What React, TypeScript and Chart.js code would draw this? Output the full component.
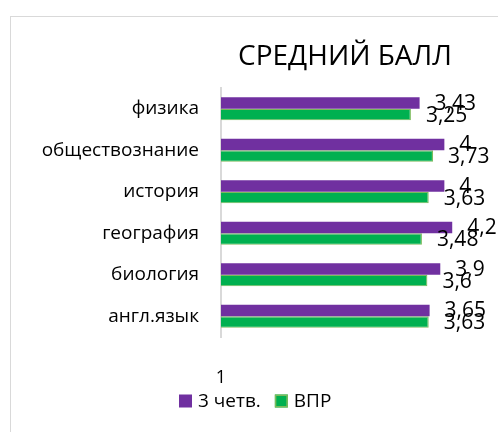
import React, { useEffect, useRef } from 'react';
import { Chart, registerables } from 'chart.js';

Chart.register(...registerables);

const categories = ['физика', 'обществознание', 'история', 'география', 'биология', 'англ.язык'];
const quarterScores = [3.43, 4, 4, 4.2, 3.9, 3.65];
const vprScores = [3.25, 3.73, 3.63, 3.48, 3.6, 3.63];
const seriesNames = ['3 четв.', 'ВПР'];
const axisTickLabels = [1];
const chartTitle = 'СРЕДНИЙ БАЛЛ';

const FONT = "'Open Sans', 'Noto Sans', sans-serif";
const PURPLE = '#7030A0';
const GREEN = '#00B050';
const GREEN_EDGE = '#7CBB5C';

const fmt = (v: number) => String(v).replace('.', ',');

const titlePlugin = {
  id: 'customTitle',
  afterDraw(chart: any) {
    const ctx = chart.ctx;
    ctx.save();
    ctx.font = `28px ${FONT}`;
    ctx.fillStyle = '#000';
    ctx.textAlign = 'center';
    ctx.textBaseline = 'middle';
    ctx.fillText(chartTitle, chart.width / 2, chart.chartArea.top - 31);
    ctx.restore();
  },
};

const barLabelPlugin = {
  id: 'barLabels',
  afterDatasetsDraw(chart: any) {
    const ctx = chart.ctx;
    ctx.save();
    ctx.font = `21px ${FONT}`;
    ctx.fillStyle = '#000';
    ctx.textBaseline = 'middle';
    ctx.textAlign = 'left';
    chart.data.datasets.forEach((ds: any, di: number) => {
      const meta = chart.getDatasetMeta(di);
      meta.data.forEach((bar: any, i: number) => {
        ctx.fillText(fmt(ds.data[i]), bar.x + 15, bar.y + 1);
      });
    });
    ctx.restore();
  },
};

const legendPlugin = {
  id: 'customLegend',
  afterDraw(chart: any) {
    const ctx = chart.ctx;
    ctx.save();
    ctx.font = `19px ${FONT}`;
    ctx.textBaseline = 'middle';
    ctx.textAlign = 'left';
    const cy = chart.chartArea.bottom + 64;
    let x = 179;
    const box = 13;
    chart.data.datasets.forEach((ds: any) => {
      ctx.fillStyle = ds.backgroundColor;
      ctx.fillRect(x, cy - box / 2, box, box);
      if (ds.borderWidth) {
        ctx.strokeStyle = ds.borderColor;
        ctx.lineWidth = 1.5;
        ctx.strokeRect(x + 0.75, cy - box / 2 + 0.75, box - 1.5, box - 1.5);
      }
      ctx.fillStyle = '#000';
      const tx = x + box + 6;
      ctx.fillText(ds.label, tx, cy + 1);
      x = tx + ctx.measureText(ds.label).width + 14;
    });
    ctx.restore();
  },
};

export default function App() {
  const ref = useRef<HTMLCanvasElement | null>(null);

  useEffect(() => {
    if (!ref.current) return;
    const chart = new Chart(ref.current, {
      type: 'bar',
      data: {
        labels: categories,
        datasets: [
          {
            label: seriesNames[0],
            data: quarterScores,
            backgroundColor: PURPLE,
            borderWidth: 0,
            categoryPercentage: 0.56,
            barPercentage: 1,
          },
          {
            label: seriesNames[1],
            data: vprScores,
            backgroundColor: GREEN,
            borderColor: GREEN_EDGE,
            borderWidth: 1.2,
            categoryPercentage: 0.56,
            barPercentage: 1,
          },
        ],
      },
      options: {
        indexAxis: 'y',
        responsive: false,
        animation: false,
        layout: { padding: { left: 0, right: 98, top: 88, bottom: 24 } },
        plugins: {
          legend: { display: false },
          tooltip: { enabled: false },
          title: { display: false },
        },
        scales: {
          x: {
            type: 'logarithmic',
            min: 1,
            max: 10,
            bounds: 'data',
            grid: { display: false, drawTicks: false },
            border: { display: false },
            ticks: {
              padding: 30,
              color: '#000',
              autoSkip: false,
              maxRotation: 0,
              font: { family: FONT, size: 18 },
              callback: (v: any) => (axisTickLabels.includes(Number(v)) ? String(v) : ''),
            },
            afterFit: (s: any) => {
              s.height = 71;
            },
          },
          y: {
            grid: { display: false, drawTicks: false },
            border: { display: true, color: '#d9d9d9', width: 2 },
            ticks: {
              padding: 22,
              color: '#000',
              font: { family: FONT, size: 19 },
            },
            afterFit: (s: any) => {
              s.width = 221;
            },
          },
        },
      } as any,
      plugins: [titlePlugin, barLabelPlugin, legendPlugin],
    });
    return () => chart.destroy();
  }, []);

  return (
    <div
      style={{
        position: 'fixed',
        left: 0,
        top: 0,
        width: 498,
        height: 432,
        overflow: 'hidden',
        background: '#fff',
      }}
    >
      <div
        style={{
          position: 'absolute',
          left: 10,
          top: 16,
          width: 720,
          height: 500,
          border: '1px solid #d9d9d9',
        }}
      />
      <canvas
        ref={ref}
        width={690}
        height={432}
        style={{ position: 'absolute', left: 0, top: 0, display: 'block' }}
      />
    </div>
  );
}
